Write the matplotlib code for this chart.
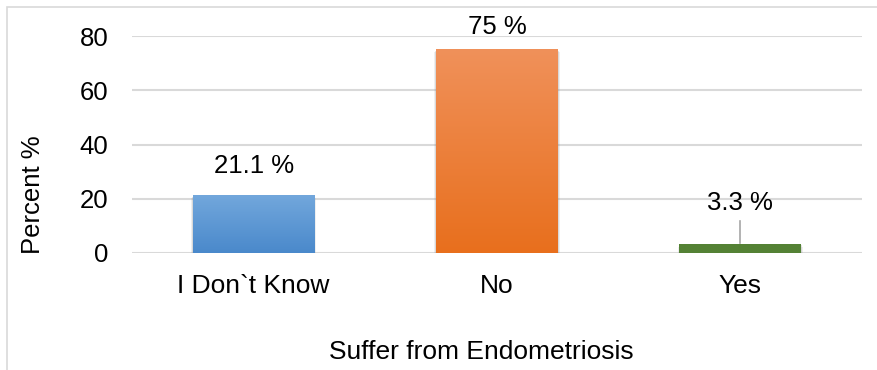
import numpy as np
import matplotlib
matplotlib.use("Agg")
import matplotlib.pyplot as plt
from matplotlib.colors import LinearSegmentedColormap
from matplotlib.patches import Rectangle

categories = ["I Don`t Know", "No", "Yes"]
percent = [21.1, 75, 3.3]
labels = ["21.1 %", "75 %", "3.3 %"]
top_colors = ["#72a7dc", "#f0915a", "#548235"]
bottom_colors = ["#4a89cb", "#e86f1d", "#548235"]

plt.rcParams["font.family"] = ["Liberation Sans", "DejaVu Sans"]
fs = 18.5

fig = plt.figure(figsize=(8.78, 3.70), dpi=100)
ax = fig.add_axes([132 / 878, 1 - 253 / 370, 730 / 878, 217 / 370])

# light frame around the chart area
fig.patches.append(Rectangle((7 / 878, -0.1), 1.2, 1 - 7 / 370 + 0.1,
                             transform=fig.transFigure, fill=False,
                             edgecolor="#d9d9d9", linewidth=1.2))

x = np.arange(len(categories))
w = 0.5
grad = np.linspace(1, 0, 256).reshape(-1, 1)

for xi, val, c0, c1 in zip(x, percent, top_colors, bottom_colors):
    # soft shadow under each bar
    for k, a in [(0.016, 0.12), (0.008, 0.2)]:
        ax.bar(xi, val, w + k, bottom=-k * 60, color="#808080",
               alpha=a, zorder=2, linewidth=0)
    cmap = LinearSegmentedColormap.from_list("g", [c1, c0])
    ax.imshow(grad, cmap=cmap, aspect="auto", origin="upper",
              extent=(xi - w / 2, xi + w / 2, 0, val), zorder=3)

for xi, val, lab in zip(x, percent, labels):
    if val < 10:
        ax.plot([xi, xi], [val + 0.3, val + 8.5], color="#a6a6a6", lw=1.2, zorder=3)
        ax.text(xi, val + 15.1, lab, ha="center", va="center", fontsize=fs)
    else:
        ax.text(xi, min(val + 11, 83.3), lab, ha="center", va="center", fontsize=fs)

ax.set_xlim(-0.5, 2.5)
ax.set_ylim(0, 80)
ax.set_yticks([0, 20, 40, 60, 80])
ax.set_xticks(x)
ax.set_xticklabels(categories, fontsize=19)
ax.yaxis.grid(True, color="#d9d9d9", linewidth=1.5, zorder=0)
ax.set_axisbelow(True)
for s in ax.spines.values():
    s.set_visible(False)
ax.tick_params(axis="y", length=0, labelsize=fs, pad=17)
ax.tick_params(axis="x", length=0, pad=15)

ax.set_ylabel("Percent %", fontsize=fs)
ax.yaxis.label.set_verticalalignment("center")
ax.yaxis.set_label_coords((33 - 132) / 730, (253 - 195) / 217)
ax.set_xlabel("Suffer from Endometriosis", fontsize=19)
ax.xaxis.label.set_verticalalignment("center")
ax.xaxis.set_label_coords((481 - 132) / 730, (253 - 352) / 217)

fig.savefig("out.png", dpi=100)
